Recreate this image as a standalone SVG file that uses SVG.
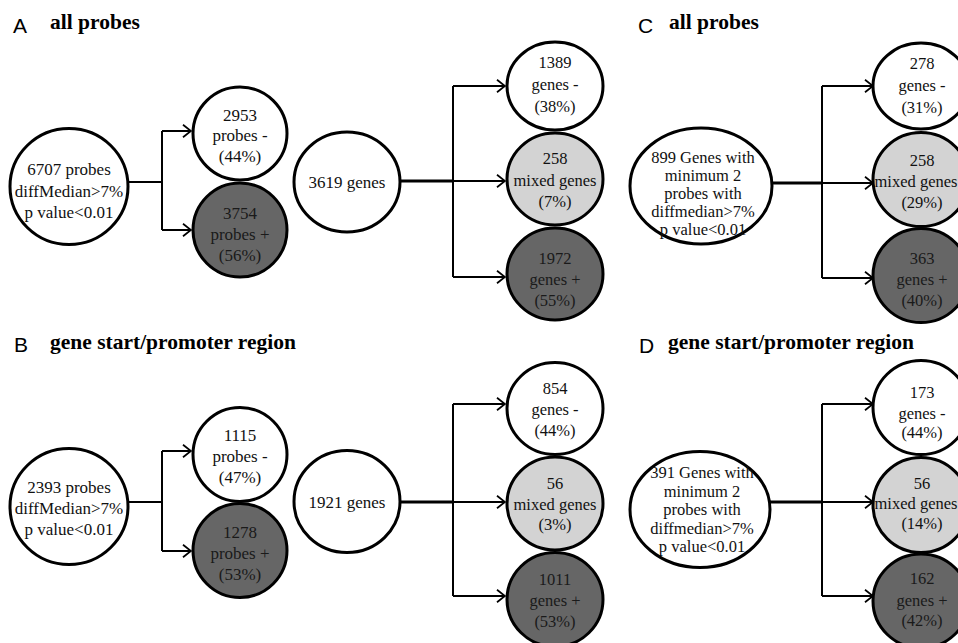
<svg xmlns="http://www.w3.org/2000/svg" width="958" height="643" viewBox="0 0 958 643">
<style>
.n{stroke:#000;stroke-width:3}
.w{fill:#fff}
.l{fill:#d3d3d3}
.d{fill:#666}
text{font-family:"Liberation Serif","Times New Roman",serif;font-size:16.5px;text-anchor:middle;fill:#111}
.dk text{fill:#1a1a1a}
.big{font-size:17px}
.lt{font-family:"Liberation Sans",Arial,sans-serif;font-size:21px;text-anchor:start;fill:#000}
.tt{font-family:"Liberation Serif","Times New Roman",serif;font-weight:bold;font-size:21.5px;text-anchor:start;fill:#000}
.c{fill:none;stroke:#000;stroke-width:2}
.c3{fill:none;stroke:#000;stroke-width:3}
.a{marker-end:url(#ar)}
</style>
<defs>
<marker id="ar" viewBox="0 0 10 14" refX="9" refY="7" markerWidth="10" markerHeight="14" markerUnits="userSpaceOnUse" orient="auto">
<path d="M1,0.8 L9,7 L1,13.2" fill="none" stroke="#000" stroke-width="1.8"/>
</marker>
</defs>
<g id="headers">
<text class="lt" x="13" y="33">A</text>
<text class="tt" x="50" y="29">all probes</text>
<text class="lt" x="14" y="352">B</text>
<text class="tt" x="50" y="349">gene start/promoter region</text>
<text class="lt" x="638" y="33">C</text>
<text class="tt" x="669" y="29">all probes</text>
<text class="lt" x="639" y="353">D</text>
<text class="tt" x="668" y="349">gene start/promoter region</text>
</g>
<g id="connectors">
<path class="c" d="M128,182 H162 M162,131 V230"/>
<path class="c a" d="M162,131 H191"/>
<path class="c a" d="M162,230 H191"/>
<path class="c3" d="M400,181 H453"/>
<path class="c" d="M453,86 V277"/>
<path class="c a" d="M453,86 H505"/>
<path class="c a" d="M453,181 H505"/>
<path class="c a" d="M453,277 H505"/>
<path class="c3" d="M772,183 H822"/>
<path class="c" d="M822,86 V278"/>
<path class="c a" d="M822,86 H873"/>
<path class="c a" d="M822,183 H873"/>
<path class="c a" d="M822,278 H873"/>
<path class="c" d="M128,502 H162 M162,451 V551"/>
<path class="c a" d="M162,451 H191"/>
<path class="c a" d="M162,551 H191"/>
<path class="c3" d="M400,502 H453"/>
<path class="c" d="M453,404 V596"/>
<path class="c a" d="M453,404 H505"/>
<path class="c a" d="M453,502 H505"/>
<path class="c a" d="M453,596 H505"/>
<path class="c3" d="M770,502 H822"/>
<path class="c" d="M822,404 V596"/>
<path class="c a" d="M822,404 H873"/>
<path class="c a" d="M822,502 H873"/>
<path class="c a" d="M822,596 H873"/>
</g>
<g id="A-src"><ellipse class="n w" cx="69" cy="186.5" rx="59" ry="58"/>
<text class="big" x="69" y="175">6707 probes</text><text class="big" x="69" y="197">diffMedian&gt;7%</text><text class="big" x="69" y="218">p value&lt;0.01</text></g>
<g id="A-neg"><ellipse class="n w" cx="240" cy="133.5" rx="47" ry="46.5"/>
<text class="big" x="240" y="121">2953</text><text class="big" x="240" y="141">probes -</text><text class="big" x="240" y="162">(44%)</text></g>
<g id="A-pos" class="dk"><ellipse class="n d" cx="240" cy="230" rx="47" ry="47"/>
<text class="big" x="240" y="219">3754</text><text class="big" x="240" y="240">probes +</text><text class="big" x="240" y="261">(56%)</text></g>
<g id="A-genes"><ellipse class="n w" cx="347" cy="182" rx="53" ry="50"/>
<text class="big" x="347" y="188">3619 genes</text></g>
<g id="A-gneg"><ellipse class="n w" cx="555" cy="86" rx="48" ry="44"/>
<text x="555" y="68">1389</text><text x="555" y="90">genes -</text><text x="555" y="112">(38%)</text></g>
<g id="A-gmix"><ellipse class="n l" cx="555" cy="179" rx="48" ry="46"/>
<text x="555" y="164">258</text><text x="555" y="186">mixed genes</text><text x="555" y="207">(7%)</text></g>
<g id="A-gpos" class="dk"><ellipse class="n d" cx="555" cy="274" rx="48" ry="46"/>
<text x="555" y="264">1972</text><text x="555" y="285">genes +</text><text x="555" y="306">(55%)</text></g>
<g id="C-src"><ellipse class="n w" cx="701" cy="186" rx="71" ry="58"/>
<text x="703" y="163">899 Genes with</text><text x="703" y="181">minimum 2</text><text x="703" y="199">probes with</text><text x="703" y="217">diffmedian&gt;7%</text><text x="703" y="235">p value&lt;0.01</text></g>
<g id="C-neg"><ellipse class="n w" cx="921" cy="86" rx="48" ry="43"/>
<text x="922" y="69">278</text><text x="922" y="91">genes -</text><text x="922" y="113">(31%)</text></g>
<g id="C-mix"><ellipse class="n l" cx="921" cy="179.5" rx="48" ry="47"/>
<text x="922" y="166">258</text><text x="916" y="187">mixed genes</text><text x="922" y="208">(29%)</text></g>
<g id="C-pos" class="dk"><ellipse class="n d" cx="921" cy="275.5" rx="48" ry="47"/>
<text x="922" y="264">363</text><text x="922" y="285">genes +</text><text x="922" y="306">(40%)</text></g>
<g id="B-src"><ellipse class="n w" cx="69" cy="506.5" rx="59" ry="58"/>
<text class="big" x="69" y="493">2393 probes</text><text class="big" x="69" y="514">diffMedian&gt;7%</text><text class="big" x="69" y="535">p value&lt;0.01</text></g>
<g id="B-neg"><ellipse class="n w" cx="240" cy="454.5" rx="47" ry="47"/>
<text class="big" x="240" y="441">1115</text><text class="big" x="240" y="462">probes -</text><text class="big" x="240" y="483">(47%)</text></g>
<g id="B-pos" class="dk"><ellipse class="n d" cx="240" cy="550.5" rx="47" ry="47"/>
<text class="big" x="240" y="538">1278</text><text class="big" x="240" y="559">probes +</text><text class="big" x="240" y="580">(53%)</text></g>
<g id="B-genes"><ellipse class="n w" cx="347" cy="501.5" rx="53" ry="51"/>
<text class="big" x="347" y="508">1921 genes</text></g>
<g id="B-gneg"><ellipse class="n w" cx="555" cy="408.5" rx="48" ry="46"/>
<text x="555" y="394">854</text><text x="555" y="415">genes -</text><text x="555" y="436">(44%)</text></g>
<g id="B-gmix"><ellipse class="n l" cx="555" cy="503.5" rx="48" ry="46.5"/>
<text x="555" y="489">56</text><text x="555" y="510">mixed genes</text><text x="555" y="530">(3%)</text></g>
<g id="B-gpos" class="dk"><ellipse class="n d" cx="555" cy="599.5" rx="48" ry="47"/>
<text x="555" y="585">1011</text><text x="555" y="606">genes +</text><text x="555" y="627">(53%)</text></g>
<g id="D-src"><ellipse class="n w" cx="700" cy="509.5" rx="70" ry="58"/>
<text x="702" y="478">391 Genes with</text><text x="702" y="496.5">minimum 2</text><text x="702" y="515">probes with</text><text x="702" y="533.5">diffmedian&gt;7%</text><text x="702" y="552">p value&lt;0.01</text></g>
<g id="D-neg"><ellipse class="n w" cx="921" cy="407.5" rx="48" ry="47"/>
<text x="922" y="398">173</text><text x="922" y="419">genes -</text><text x="922" y="438">(44%)</text></g>
<g id="D-mix"><ellipse class="n l" cx="921" cy="505" rx="48" ry="47.5"/>
<text x="922" y="489">56</text><text x="916" y="509">mixed genes</text><text x="922" y="529">(14%)</text></g>
<g id="D-pos" class="dk"><ellipse class="n d" cx="921" cy="601" rx="48" ry="47"/>
<text x="922" y="584">162</text><text x="922" y="606">genes +</text><text x="922" y="626">(42%)</text></g>
</svg>
